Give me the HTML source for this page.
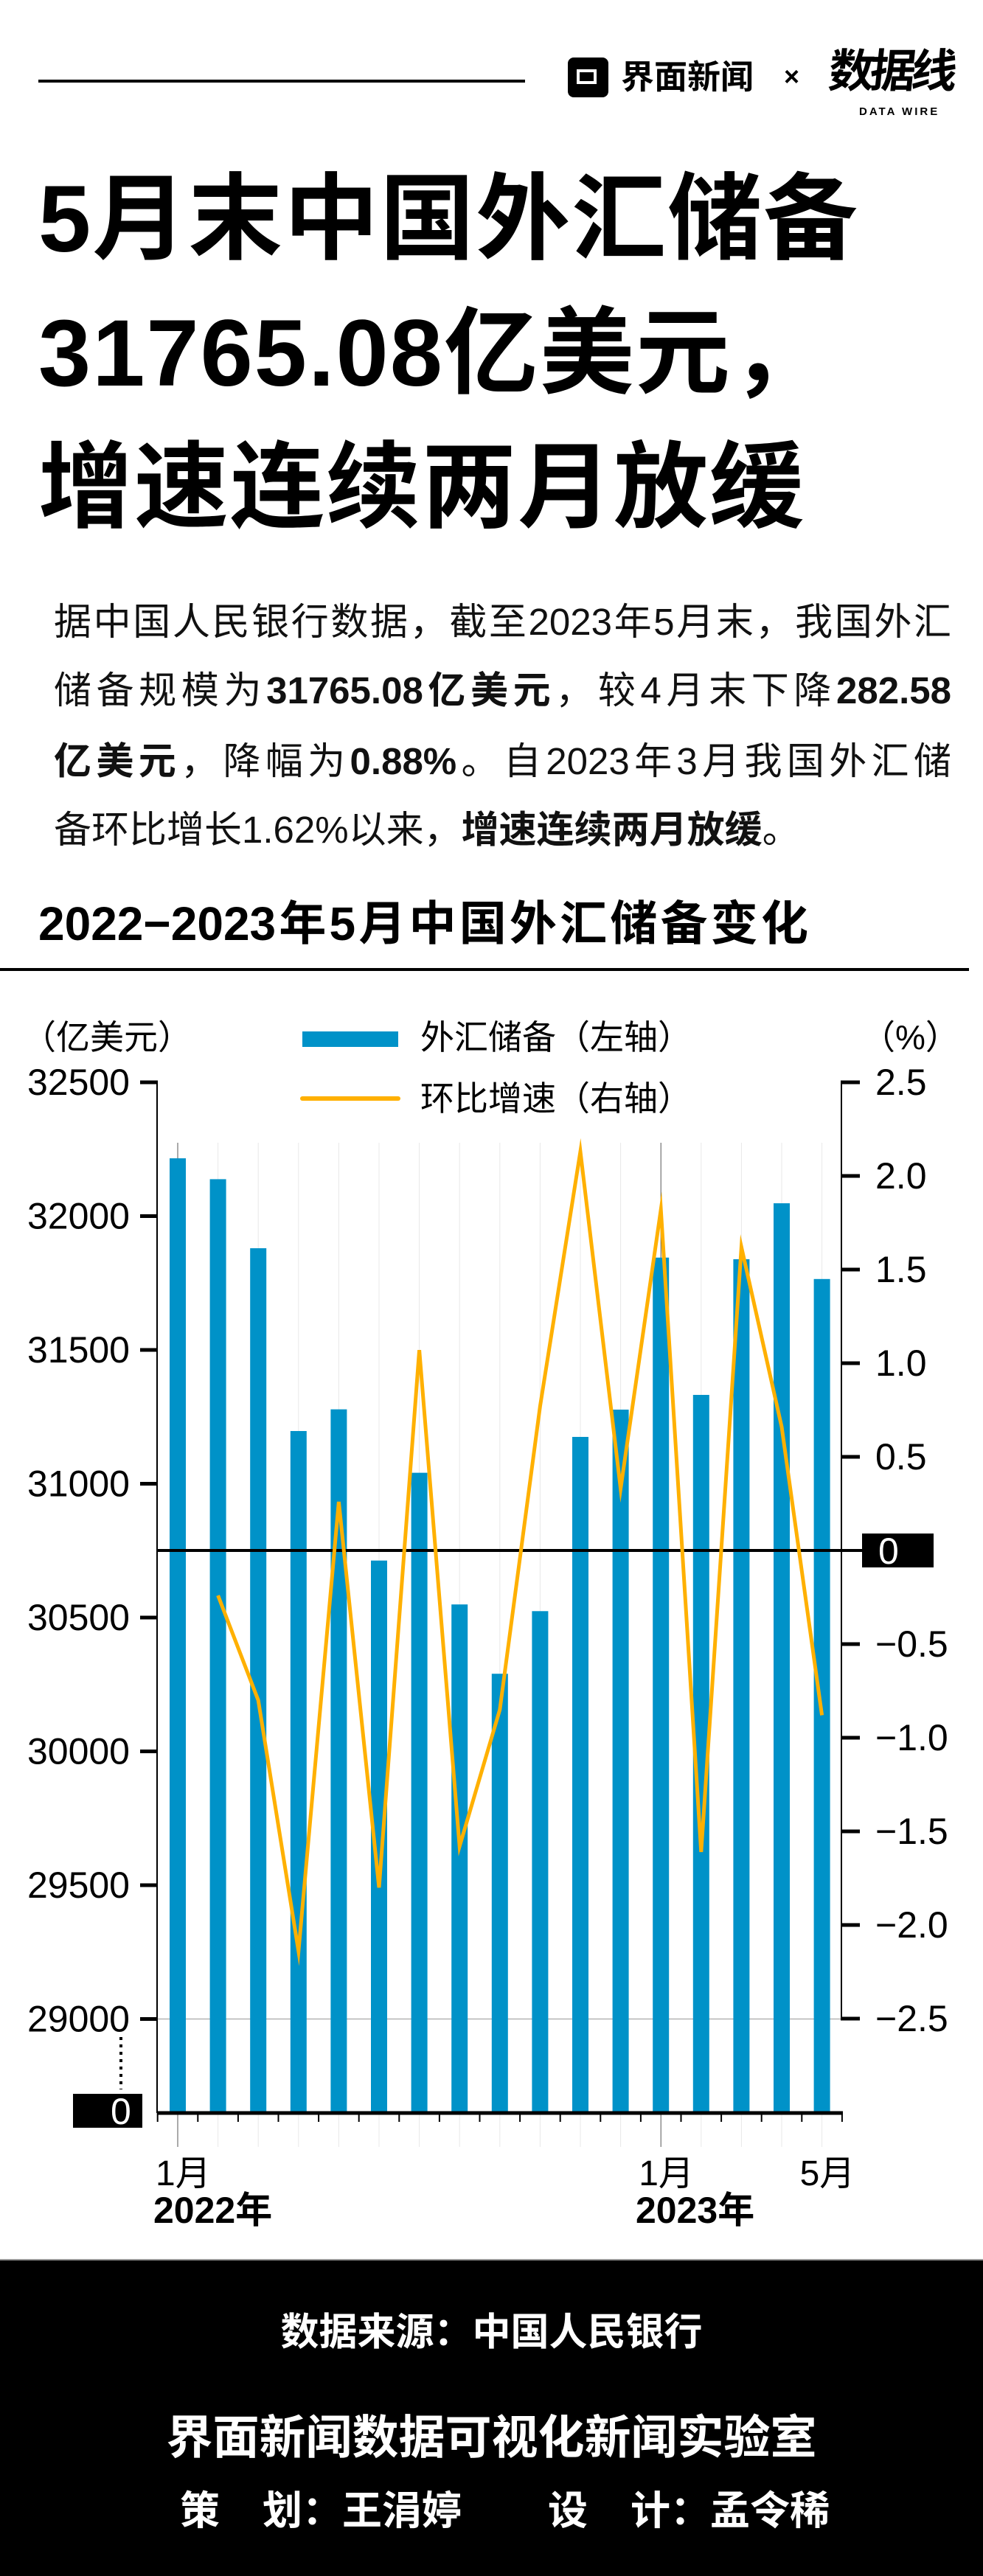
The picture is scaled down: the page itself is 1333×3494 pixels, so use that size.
<!DOCTYPE html>
<html><head><meta charset="utf-8">
<style>
html,body{margin:0;padding:0;}
body{width:1333px;height:3494px;position:relative;background:#fff;overflow:hidden;font-family:"Liberation Sans","Noto Sans CJK SC",sans-serif;color:#000;}
.abs{position:absolute;white-space:nowrap;}
.title{font-size:128px;font-weight:bold;left:52px;line-height:130px;letter-spacing:2px;}
.para{position:absolute;left:73px;width:1217px;font-size:51px;line-height:60px;text-align:justify;text-align-last:justify;white-space:nowrap;color:#111;}
.para b{font-weight:bold;}
.foot{color:#fff;font-weight:bold;}
</style></head>
<body>
<div style="position:absolute;left:52px;top:108px;width:660px;height:4px;background:#000;"></div>
<div style="position:absolute;left:770px;top:78px;width:55px;height:54px;background:#000;border-radius:8px;">
  <div style="position:absolute;left:12px;top:16px;width:27px;height:20px;border:4px solid #fff;box-sizing:border-box;"></div>
</div>
<div class="abs" style="left:842px;top:80px;font-size:45px;font-weight:bold;line-height:50px;">界面新闻</div>
<div class="abs" style="left:1063px;top:84px;font-size:36px;font-weight:bold;line-height:40px;">×</div>
<div class="abs" style="left:1124px;top:58px;font-size:62px;line-height:80px;font-weight:bold;letter-spacing:-6px;transform:skewX(-6deg);">数据线</div>
<div class="abs" style="left:1165px;top:143px;font-size:15px;font-weight:bold;letter-spacing:3px;">DATA WIRE</div>

<div class="abs title" style="top:233px;">5月末中国外汇储备</div>
<div class="abs title" style="top:415px;">31765.08亿美元，</div>
<div class="abs title" style="top:597px;">增速连续两月放缓</div>

<div class="para" style="top:814px;">据中国人民银行数据，截至2023年5月末，我国外汇</div>
<div class="para" style="top:907px;">储备规模为<b>31765.08亿美元</b>，较4月末下降<b>282.58</b></div>
<div class="para" style="top:1003px;"><b>亿美元</b>，降幅为<b>0.88%</b>。自2023年3月我国外汇储</div>
<div class="para" style="top:1096px;text-align-last:left;">备环比增长1.62%以来，<b>增速连续两月放缓</b>。</div>

<div class="abs" style="left:52px;top:1218px;font-size:64px;font-weight:bold;line-height:70px;width:1044px;text-align:justify;text-align-last:justify;">2022−2023年5月中国外汇储备变化</div>
<div style="position:absolute;left:0;top:1313px;width:1314px;height:4px;background:#000;"></div>

<svg id="chart" style="position:absolute;left:0;top:0;" width="1333" height="3064" viewBox="0 0 1333 3064" font-family="Liberation Sans Narrow, Liberation Sans, Noto Sans CJK SC, sans-serif">
  <g id="grid"></g>
  <g id="bars"></g>
  <g id="axes"></g>
  <g id="line"></g>
  <g id="legend">
    <text x="30" y="1423" font-size="46">（亿美元）</text>
    <rect x="410" y="1399" width="130" height="21" fill="#0092c8"/>
    <text x="570" y="1423" font-size="46" font-family="Noto Sans CJK SC, sans-serif">外汇储备（左轴）</text>
    <line x1="410" y1="1490" x2="540" y2="1490" stroke="#ffb000" stroke-width="6" stroke-linecap="round"/>
    <text x="570" y="1506" font-size="46" font-family="Noto Sans CJK SC, sans-serif">环比增速（右轴）</text>
    <text x="1168" y="1423" font-size="46">（%）</text>
  </g>
</svg>

<div class="abs" style="left:208px;top:2970px;font-size:50px;font-weight:bold;line-height:56px;">2022年</div>
<div class="abs" style="left:862px;top:2970px;font-size:50px;font-weight:bold;line-height:56px;">2023年</div>

<div style="position:absolute;left:0;top:3064px;width:1333px;height:430px;background:#000;border-top:2px solid #999;box-sizing:border-box;">
  <div class="abs foot" style="left:0;width:1333px;text-align:center;top:68px;font-size:52px;line-height:60px;">数据来源：中国人民银行</div>
  <div class="abs foot" style="left:0;width:1333px;text-align:center;top:206px;font-size:63px;line-height:70px;">界面新闻数据可视化新闻实验室</div>
  <div class="abs foot" style="left:244px;top:310px;font-size:54px;line-height:60px;">策<span style="display:inline-block;width:58px"></span>划：王涓婷</div>
  <div class="abs foot" style="left:743px;top:310px;font-size:54px;line-height:60px;">设<span style="display:inline-block;width:58px"></span>计：孟令稀</div>
</div>

<script>
const months = ["1月","2月","3月","4月","5月","6月","7月","8月","9月","10月","11月","12月","1月","2月","3月","4月","5月"];
const reserves = [32216,32138,31880,31197,31278,30713,31041,30549,30290,30524,31175,31277,31845,31332,31839,32048,31765];
const growth = [null,-0.24,-0.80,-2.14,0.26,-1.80,1.07,-1.58,-0.85,0.77,2.13,0.33,1.82,-1.61,1.62,0.66,-0.88];
const leftTicks = [32500,32000,31500,31000,30500,30000,29500,29000];
const rightTicks = [2.5,2.0,1.5,1.0,0.5,-0.5,-1.0,-1.5,-2.0,-2.5];
const xLabelIdx = [0,12,16];

const NS = "http://www.w3.org/2000/svg";
const X0 = 241, STEP = 54.6, BASE = 2866;
function x(i){ return X0 + i*STEP; }
function yL(v){ return 1468 + (32500 - v)*0.363; }
function yR(p){ return 2103 - p*254; }
function mk(tag, attrs, parent){ const e=document.createElementNS(NS,tag); for(const k in attrs) e.setAttribute(k,attrs[k]); parent.appendChild(e); return e; }

const grid=document.getElementById('grid'), bars=document.getElementById('bars'), axes=document.getElementById('axes'), lineG=document.getElementById('line');

months.forEach((m,i)=>{
  const g = mk('line',{x1:x(i),x2:x(i),y1:1550,y2:2912,stroke:(i===0||i===12)?'#555':'#e8e8e8','stroke-width':1},grid);
  
  
});
const h = mk('line',{x1:213,x2:1141,y1:yL(29000),y2:yL(29000),stroke:'#999','stroke-width':1},grid);



reserves.forEach((v,i)=>{
  const r = mk('rect',{x:x(i)-11,y:yL(v),width:22,height:BASE-yL(v),fill:'#0092c8'},bars);
  
  
});

let a = mk('line',{x1:213,x2:213,y1:yL(32500),y2:BASE,stroke:'#000','stroke-width':2},axes);


leftTicks.forEach(t=>{
  const tk = mk('line',{x1:190,x2:214,y1:yL(t),y2:yL(t),stroke:'#000','stroke-width':5},axes);
  
  
  const tx = mk('text',{x:176,y:yL(t)+17,'font-size':50,'text-anchor':'end'},axes);
  tx.textContent = t;
  
  
});
let d = mk('line',{x1:164,x2:164,y1:2763,y2:2834,stroke:'#000','stroke-width':4,'stroke-dasharray':'4 6'},axes);


let zb = mk('rect',{x:99,y:2840,width:94,height:46,fill:'#000'},axes);


let zt = mk('text',{x:150,y:2881,'font-size':50,fill:'#fff'},axes);
zt.textContent='0';



let bl = mk('line',{x1:213,x2:1143,y1:BASE,y2:BASE,stroke:'#000','stroke-width':5},axes);


for(let i=0;i<=months.length;i++){
  const tk = mk('line',{x1:x(i)-STEP/2,x2:x(i)-STEP/2,y1:BASE,y2:BASE+12,stroke:'#000','stroke-width':2},axes);
  
  
}
xLabelIdx.forEach(i=>{
  const tx = mk('text',{x:x(i)-30,y:2964,'font-size':48},axes);
  tx.textContent = months[i];
  
  
});

let ra = mk('line',{x1:1141,x2:1141,y1:yR(2.5),y2:yR(-2.5),stroke:'#000','stroke-width':2},axes);


rightTicks.forEach(t=>{
  const tk = mk('line',{x1:1140,x2:1166,y1:yR(t),y2:yR(t),stroke:'#000','stroke-width':5},axes);
  
  
  const tx = mk('text',{x:1187,y:yR(t)+17,'font-size':50},axes);
  tx.textContent = (t<0?'−':'')+Math.abs(t).toFixed(1);
  
  
});
let zl = mk('line',{x1:213,x2:1170,y1:yR(0),y2:yR(0),stroke:'#000','stroke-width':4},axes);


let rb = mk('rect',{x:1169,y:yR(0)-23,width:97,height:46,fill:'#000'},axes);


let rt = mk('text',{x:1191,y:yR(0)+18,'font-size':50,fill:'#fff'},axes);
rt.textContent='0';



const pts = [];
growth.forEach((p,i)=>{ if(p!==null) pts.push(x(i)+','+yR(p)); });
const pl = mk('polyline',{points:pts.join(' '),fill:'none',stroke:'#ffb000','stroke-width':5,'stroke-linejoin':'miter','stroke-miterlimit':10},lineG);


</script>
</body></html>
